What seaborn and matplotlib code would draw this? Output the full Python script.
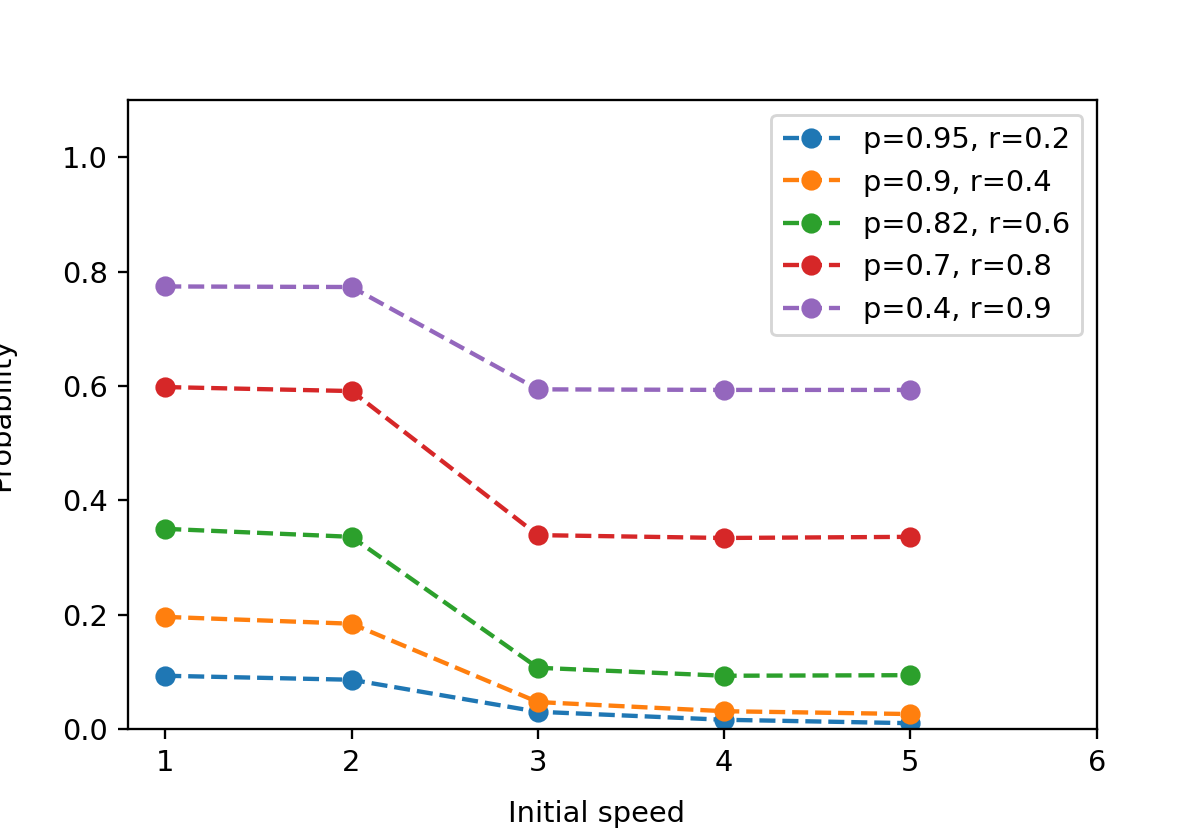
import matplotlib
matplotlib.use('Agg')
import matplotlib.pyplot as plt
import seaborn as sns

speeds = [1, 2, 3, 4, 5]
labels = ['p=0.95, r=0.2', 'p=0.9, r=0.4', 'p=0.82, r=0.6', 'p=0.7, r=0.8', 'p=0.4, r=0.9']
prob_a = [0.093, 0.086, 0.030, 0.016, 0.010]
prob_b = [0.196, 0.184, 0.047, 0.031, 0.026]
prob_c = [0.350, 0.336, 0.107, 0.093, 0.094]
prob_d = [0.598, 0.591, 0.339, 0.334, 0.336]
prob_e = [0.774, 0.773, 0.594, 0.593, 0.593]
colors = ['#1f77b4', '#ff7f0e', '#2ca02c', '#d62728', '#9467bd']

# reference looks like a slightly upscaled default mpl figure
fig = plt.figure(figsize=(1196 / 208, 834 / 208), dpi=208)
ax = fig.add_axes([0.107, 0.126, 0.810, 0.754])

for vals, lab, col in zip([prob_a, prob_b, prob_c, prob_d, prob_e], labels, colors):
    sns.lineplot(x=speeds, y=vals, label=lab, color=col, linestyle='--',
                 marker='o', markersize=6, markeredgewidth=1,
                 markeredgecolor=col, ax=ax)

ax.set_xlim(0.8, 6)
ax.set_ylim(0, 1.1)
ax.set_xticks([1, 2, 3, 4, 5, 6])
ax.set_yticks([0.0, 0.2, 0.4, 0.6, 0.8, 1.0])
ax.set_xlabel('Initial speed')
ax.set_ylabel('Probability', labelpad=16)
ax.xaxis.set_label_coords(0.484, -0.113)
ax.legend(loc='upper right')

fig.savefig('out.png', dpi=208)
